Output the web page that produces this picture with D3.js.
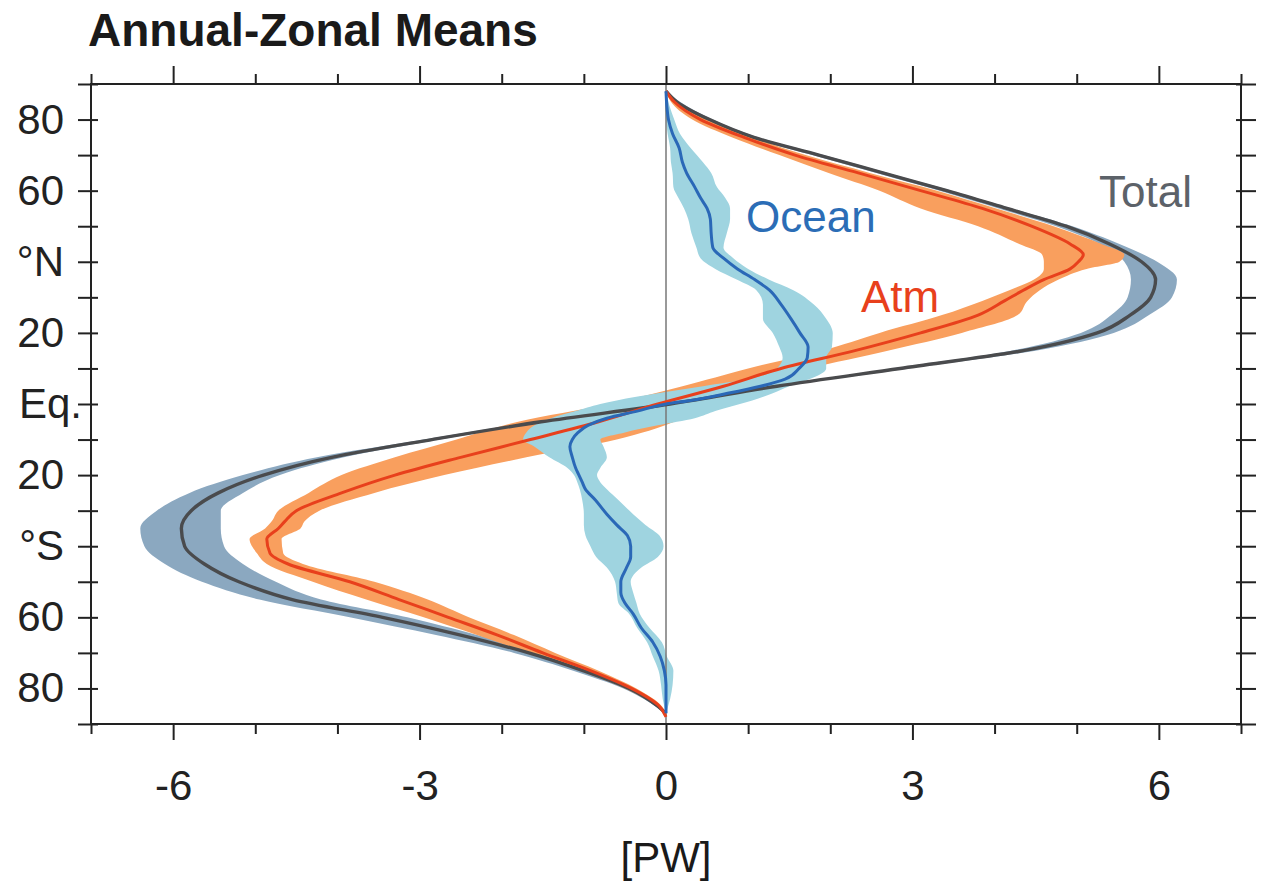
<!DOCTYPE html>
<html>
<head>
<meta charset="utf-8">
<script src="https://cdn.jsdelivr.net/npm/d3@7"></script>
<style>
  body { margin: 0; background: #fff; }
  svg { display: block; font-family: "Liberation Sans", Arial, Helvetica, sans-serif; }
</style>
</head>
<body>
<svg id="chart"></svg>
<script>
// rows: [latitude, mean, lower edge, upper edge] in PW
const totalRows = [
    [88, 0, 0, 0], [85, 0.13, 0.1, 0.17], [80, 0.53, 0.47, 0.57], [75, 1.07, 1.0, 1.12],
    [70, 1.86, 1.78, 1.92], [65, 2.64, 2.56, 2.7], [60, 3.42, 3.33, 3.48], [55, 4.15, 4.05, 4.21],
    [50, 4.87, 4.75, 4.95], [45, 5.4, 5.28, 5.52], [40, 5.79, 5.58, 5.98], [35, 5.96, 5.66, 6.22],
    [30, 5.9, 5.62, 6.16], [25, 5.65, 5.42, 5.88], [20, 5.25, 5.05, 5.45], [15, 4.35, 4.2, 4.5],
    [10, 2.85, 2.75, 2.95], [5, 1.35, 1.28, 1.42], [0, 0.05, 0.0, 0.1], [-5, -1.52, -1.6, -1.45],
    [-10, -2.85, -2.95, -2.75], [-15, -4.07, -4.25, -3.92], [-20, -4.9, -5.15, -4.7],
    [-25, -5.45, -5.8, -5.15], [-30, -5.78, -6.2, -5.42], [-35, -5.9, -6.4, -5.42],
    [-40, -5.86, -6.35, -5.38], [-45, -5.62, -6.1, -5.15], [-50, -5.2, -5.65, -4.75],
    [-55, -4.55, -4.95, -4.2], [-60, -3.45, -3.85, -3.15], [-65, -2.5, -2.8, -2.3],
    [-70, -1.67, -1.85, -1.55], [-75, -1.01, -1.13, -0.93], [-80, -0.45, -0.52, -0.39],
    [-85, -0.1, -0.13, -0.07], [-87, 0, -0.01, 0.01]
];

const atmRows = [
    [88, 0, 0, 0], [85, 0.1, 0.06, 0.14], [80, 0.42, 0.32, 0.5], [75, 0.95, 0.8, 1.05],
    [70, 1.57, 1.38, 1.7], [65, 2.34, 1.98, 2.48], [60, 3.1, 2.6, 3.3], [55, 3.85, 3.1, 4.02],
    [50, 4.45, 3.8, 4.72], [45, 4.92, 4.3, 5.3], [42, 5.08, 4.58, 5.58], [40, 5.02, 4.6, 5.52],
    [38, 4.92, 4.6, 5.12], [35, 4.6, 4.48, 4.78], [32, 4.35, 4.18, 4.55], [29, 4.12, 3.85, 4.4],
    [25, 3.8, 3.36, 4.28], [20, 3.1, 2.6, 3.6], [15, 2.3, 1.9, 2.7], [10, 1.4, 1.0, 1.75],
    [5, 0.7, 0.2, 1.05], [0, -0.1, -0.7, 0.5], [-5, -0.82, -1.8, 0.1], [-10, -1.65, -2.55, -0.6],
    [-15, -2.5, -3.3, -1.7], [-20, -3.3, -3.95, -2.7], [-25, -3.95, -4.35, -3.55],
    [-30, -4.5, -4.72, -4.22], [-33, -4.64, -4.8, -4.4], [-35, -4.72, -4.88, -4.45],
    [-38, -4.86, -5.07, -4.68], [-42, -4.82, -4.98, -4.66], [-45, -4.6, -4.86, -4.42],
    [-50, -3.85, -4.3, -3.55], [-55, -3.25, -3.65, -2.9], [-60, -2.65, -2.95, -2.4],
    [-65, -2.05, -2.3, -1.85], [-70, -1.5, -1.68, -1.35], [-75, -0.92, -1.05, -0.82],
    [-80, -0.42, -0.5, -0.36], [-85, -0.08, -0.12, -0.05], [-88, 0, -0.01, 0.01]
];

const oceanRows = [
    [88, 0, 0, 0], [84, 0.01, -0.01, 0.04], [80, 0.03, 0.0, 0.1], [76, 0.08, 0.02, 0.17],
    [72, 0.16, 0.05, 0.3], [68, 0.2, 0.06, 0.45], [65, 0.25, 0.08, 0.55], [61, 0.35, 0.09, 0.62],
    [58, 0.42, 0.15, 0.72], [55, 0.5, 0.22, 0.78], [52, 0.54, 0.27, 0.78], [48, 0.55, 0.31, 0.74],
    [44, 0.57, 0.37, 0.7], [41, 0.7, 0.42, 0.82], [38, 0.87, 0.6, 1.0], [35, 1.08, 0.86, 1.25],
    [32, 1.26, 1.1, 1.55], [28, 1.4, 1.18, 1.8], [24, 1.52, 1.18, 1.95], [20, 1.63, 1.3, 2.03],
    [16, 1.73, 1.38, 2.02], [13, 1.72, 1.42, 1.95], [10, 1.62, 1.35, 1.95], [7, 1.45, 1.0, 1.75],
    [5, 1.15, 0.45, 1.5], [3, 0.75, -0.1, 1.3], [1, 0.3, -0.6, 1.05], [0, 0, -0.8, 0.9],
    [-2, -0.35, -1.1, 0.6], [-4, -0.72, -1.4, 0.35], [-6, -0.95, -1.6, -0.1], [-8, -1.07, -1.7, -0.5],
    [-10, -1.14, -1.74, -0.8], [-12, -1.17, -1.6, -0.76], [-15, -1.14, -1.42, -0.72],
    [-18, -1.1, -1.2, -0.8], [-20, -1.06, -1.12, -0.84], [-22, -1.02, -1.08, -0.8],
    [-24, -0.98, -1.05, -0.72], [-27, -0.86, -1.02, -0.58], [-31, -0.72, -1.0, -0.4],
    [-34, -0.6, -1.0, -0.25], [-37, -0.47, -0.98, -0.08], [-40, -0.43, -0.92, -0.03],
    [-43, -0.43, -0.85, -0.1], [-46, -0.48, -0.72, -0.3], [-50, -0.55, -0.62, -0.43],
    [-53, -0.55, -0.6, -0.4], [-56, -0.5, -0.58, -0.36], [-59, -0.4, -0.45, -0.32],
    [-63, -0.3, -0.35, -0.2], [-67, -0.16, -0.23, -0.05], [-71, -0.07, -0.16, 0.01],
    [-75, -0.02, -0.09, 0.09], [-79, 0, -0.06, 0.08], [-83, 0, -0.04, 0.05], [-87, 0, 0, 0]
];

const xTicks = d3.range(-7, 8);
const xMajor = [-6, -3, 0, 3, 6];
const yTicks = d3.range(-90, 91, 10);
const yLabels = { 80: '80', 60: '60', 40: '°N', 20: '20', 0: 'Eq.', '-20': '20', '-40': '°S', '-60': '60', '-80': '80' };

const W = 1262, H = 883;
const svg = d3.select('#chart').attr('width', W).attr('height', H);

const x = d3.scaleLinear().domain([-7, 7]).range([91, 1241]);
const y = d3.scaleLinear().domain([90, -90]).range([84, 724]);

const series = [
    { rows: totalRows, band: '#8ba8c0', line: '#4a4b4d', width: 3.4 },
    { rows: atmRows, band: '#f99f5e', line: '#e8401c', width: 3 },
    { rows: oceanRows, band: '#9fd4e0', line: '#2a68b7', width: 3 }
];

const band = d3.area()
    .y((d) => y(d[0]))
    .x0((d) => x(d[2]))
    .x1((d) => x(d[3]))
    .curve(d3.curveMonotoneY);

const line = d3.line()
    .y((d) => y(d[0]))
    .x((d) => x(d[1]))
    .curve(d3.curveMonotoneY);

// bands first, then zero line, then mean lines
svg.append('g').selectAll('path').data(series).join('path')
    .attr('d', (s) => band(s.rows))
    .attr('fill', (s) => s.band);

svg.append('line')
    .attr('x1', x(0)).attr('x2', x(0))
    .attr('y1', y(90)).attr('y2', y(-90))
    .attr('stroke', '#777').attr('stroke-width', 1.5);

svg.append('g').selectAll('path').data(series).join('path')
    .attr('d', (s) => line(s.rows))
    .attr('fill', 'none')
    .attr('stroke', (s) => s.line)
    .attr('stroke-width', (s) => s.width);

// axes
const axisColor = '#222';
const fontSize = 42;

const gBottom = svg.append('g')
    .attr('transform', `translate(0,${y(-90)})`)
    .call(d3.axisBottom(x).tickValues(xTicks).tickSize(16).tickPadding(30)
        .tickFormat((d) => xMajor.includes(d) ? String(d) : ''));
gBottom.selectAll('.tick line').attr('y2', (d) => xMajor.includes(d) ? 16 : 10);

const gTop = svg.append('g')
    .attr('transform', `translate(0,${y(90)})`)
    .call(d3.axisTop(x).tickValues(xTicks).tickSize(18).tickFormat(''));
gTop.selectAll('.tick line').attr('y2', (d) => xMajor.includes(d) ? -18 : -10);

const gLeft = svg.append('g')
    .attr('transform', `translate(${x(-7)},0)`)
    .call(d3.axisLeft(y).tickValues(yTicks).tickSize(13).tickPadding(14)
        .tickFormat((d) => yLabels[d] || ''));
gLeft.selectAll('.tick line').attr('x1', 7);
gLeft.selectAll('.tick text').filter((d) => d === 0).attr('x', -9);

const gRight = svg.append('g')
    .attr('transform', `translate(${x(7)},0)`)
    .call(d3.axisRight(y).tickValues(yTicks).tickSize(15).tickFormat(''));
gRight.selectAll('.tick line').attr('x1', -5);

[gBottom, gTop, gLeft, gRight].forEach((g) => {
    g.select('.domain').remove();
    g.style('color', axisColor)
        .attr('font-size', fontSize)
        .attr('font-family', '"Liberation Sans", Arial, sans-serif');
    g.selectAll('.tick line').attr('stroke-width', 2);
});

svg.append('rect')
    .attr('x', x(-7)).attr('y', y(90))
    .attr('width', x(7) - x(-7)).attr('height', y(-90) - y(90))
    .attr('fill', 'none').attr('stroke', axisColor).attr('stroke-width', 2);

// texts
svg.append('text')
    .attr('x', 88).attr('y', 46)
    .attr('font-size', 46).attr('font-weight', 'bold').attr('fill', '#1a1a1a')
    .text('Annual-Zonal Means');

svg.append('text')
    .attr('x', x(0)).attr('y', 872)
    .attr('text-anchor', 'middle')
    .attr('font-size', fontSize).attr('fill', '#1a1a1a')
    .text('[PW]');

const labels = [
    { text: 'Ocean', x: 746, y: 232, color: '#2b6db6' },
    { text: 'Atm', x: 861, y: 312, color: '#e8401c' },
    { text: 'Total', x: 1099, y: 207, color: '#5c6269' }
];
svg.append('g').selectAll('text').data(labels).join('text')
    .attr('x', (d) => d.x).attr('y', (d) => d.y)
    .attr('font-size', 44)
    .attr('fill', (d) => d.color)
    .text((d) => d.text);
</script>
</body>
</html>
